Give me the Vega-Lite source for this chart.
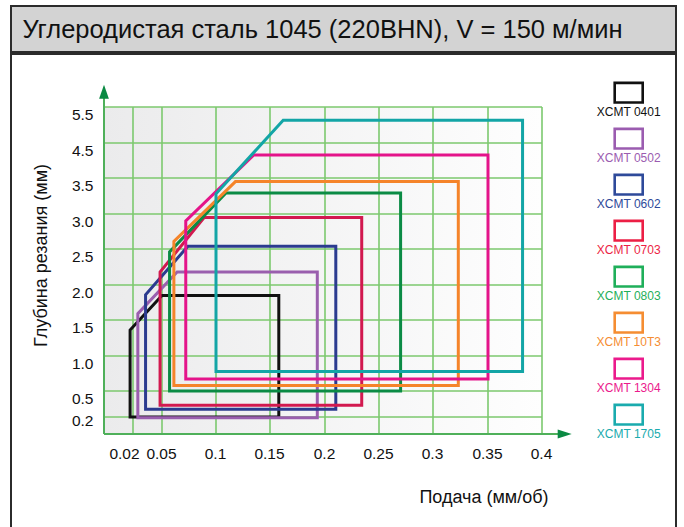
{
  "$schema": "https://vega.github.io/schema/vega-lite/v6.json",
  "padding": {"left": 10, "top": 5, "right": 0, "bottom": 0},
  "background": "white",
  "spacing": 0,
  "config": {
    "font": "Liberation Sans",
    "view": {"stroke": null},
    "axis": {"labelColor": "#111111", "titleColor": "#111111", "titleFontWeight": "normal"}
  },
  "datasets": {
    "inserts": [
      {"name": "XCMT 0401", "i": 0, "x": 0.018, "y": 0.2},
      {"name": "XCMT 0401", "i": 1, "x": 0.018, "y": 1.36},
      {"name": "XCMT 0401", "i": 2, "x": 0.05, "y": 1.85},
      {"name": "XCMT 0401", "i": 3, "x": 0.158, "y": 1.85},
      {"name": "XCMT 0401", "i": 4, "x": 0.158, "y": 0.2},
      {"name": "XCMT 0401", "i": 5, "x": 0.018, "y": 0.2},
      {"name": "XCMT 0502", "i": 0, "x": 0.025, "y": 0.19},
      {"name": "XCMT 0502", "i": 1, "x": 0.025, "y": 1.59},
      {"name": "XCMT 0502", "i": 2, "x": 0.064, "y": 2.18},
      {"name": "XCMT 0502", "i": 3, "x": 0.193, "y": 2.18},
      {"name": "XCMT 0502", "i": 4, "x": 0.193, "y": 0.19},
      {"name": "XCMT 0502", "i": 5, "x": 0.025, "y": 0.19},
      {"name": "XCMT 0602", "i": 0, "x": 0.033, "y": 0.29},
      {"name": "XCMT 0602", "i": 1, "x": 0.033, "y": 1.86},
      {"name": "XCMT 0602", "i": 2, "x": 0.074, "y": 2.54},
      {"name": "XCMT 0602", "i": 3, "x": 0.21, "y": 2.54},
      {"name": "XCMT 0602", "i": 4, "x": 0.21, "y": 0.29},
      {"name": "XCMT 0602", "i": 5, "x": 0.033, "y": 0.29},
      {"name": "XCMT 0703", "i": 0, "x": 0.048, "y": 0.335},
      {"name": "XCMT 0703", "i": 1, "x": 0.048, "y": 2.18},
      {"name": "XCMT 0703", "i": 2, "x": 0.089, "y": 2.95},
      {"name": "XCMT 0703", "i": 3, "x": 0.234, "y": 2.95},
      {"name": "XCMT 0703", "i": 4, "x": 0.234, "y": 0.335},
      {"name": "XCMT 0703", "i": 5, "x": 0.048, "y": 0.335},
      {"name": "XCMT 0803", "i": 0, "x": 0.057, "y": 0.5},
      {"name": "XCMT 0803", "i": 1, "x": 0.057, "y": 2.46},
      {"name": "XCMT 0803", "i": 2, "x": 0.109, "y": 3.29},
      {"name": "XCMT 0803", "i": 3, "x": 0.27, "y": 3.29},
      {"name": "XCMT 0803", "i": 4, "x": 0.27, "y": 0.5},
      {"name": "XCMT 0803", "i": 5, "x": 0.057, "y": 0.5},
      {"name": "XCMT 10T3", "i": 0, "x": 0.061, "y": 0.58},
      {"name": "XCMT 10T3", "i": 1, "x": 0.061, "y": 2.61},
      {"name": "XCMT 10T3", "i": 2, "x": 0.118, "y": 3.45},
      {"name": "XCMT 10T3", "i": 3, "x": 0.323, "y": 3.45},
      {"name": "XCMT 10T3", "i": 4, "x": 0.323, "y": 0.58},
      {"name": "XCMT 10T3", "i": 5, "x": 0.061, "y": 0.58},
      {"name": "XCMT 1304", "i": 0, "x": 0.072, "y": 0.67},
      {"name": "XCMT 1304", "i": 1, "x": 0.072, "y": 2.9},
      {"name": "XCMT 1304", "i": 2, "x": 0.135, "y": 4.16},
      {"name": "XCMT 1304", "i": 3, "x": 0.35, "y": 4.16},
      {"name": "XCMT 1304", "i": 4, "x": 0.35, "y": 0.67},
      {"name": "XCMT 1304", "i": 5, "x": 0.072, "y": 0.67},
      {"name": "XCMT 1705", "i": 0, "x": 0.1, "y": 0.78},
      {"name": "XCMT 1705", "i": 1, "x": 0.1, "y": 3.28},
      {"name": "XCMT 1705", "i": 2, "x": 0.162, "y": 5.13},
      {"name": "XCMT 1705", "i": 3, "x": 0.382, "y": 5.13},
      {"name": "XCMT 1705", "i": 4, "x": 0.382, "y": 0.78},
      {"name": "XCMT 1705", "i": 5, "x": 0.1, "y": 0.78}
    ],
    "feeds": [
      {"f": 0.02}, {"f": 0.05}, {"f": 0.1}, {"f": 0.15}, {"f": 0.2},
      {"f": 0.25}, {"f": 0.3}, {"f": 0.35}, {"f": 0.4}
    ],
    "depths": [
      {"d": 0.2}, {"d": 0.5}, {"d": 1.0}, {"d": 1.5}, {"d": 2.0},
      {"d": 2.5}, {"d": 3.0}, {"d": 3.5}, {"d": 4.5}, {"d": 5.5}
    ],
    "grades": [
      {"name": "XCMT 0401"}, {"name": "XCMT 0502"}, {"name": "XCMT 0602"}, {"name": "XCMT 0703"},
      {"name": "XCMT 0803"}, {"name": "XCMT 10T3"}, {"name": "XCMT 1304"}, {"name": "XCMT 1705"}
    ]
  },
  "vconcat": [
    {
      "width": 665,
      "height": 46,
      "view": {"fill": "#d3d3d3", "stroke": "#2b2b2b", "strokeWidth": 2},
      "data": {"values": [{"t": "Углеродистая сталь 1045 (220BHN), V = 150 м/мин"}]},
      "mark": {
        "type": "text", "align": "center", "baseline": "middle",
        "dx": -21, "dy": 1,
        "font": "Liberation Sans", "fontSize": 25.5, "color": "#111111"
      },
      "encoding": {"text": {"field": "t"}}
    },
    {
      "width": 665,
      "height": 490,
      "view": {"fill": "white", "stroke": "#2b2b2b", "strokeWidth": 2},
      "resolve": {"scale": {"x": "independent", "y": "independent", "color": "independent"}},
      "layer": [
        {
          "layer": [
            {
              "data": {"values": [{}]},
              "mark": {
                "type": "rect",
                "fill": {
                  "gradient": "linear", "x1": 0, "y1": 0, "x2": 1, "y2": 0,
                  "stops": [{"offset": 0, "color": "#ebebec"}, {"offset": 1, "color": "#fefefe"}]
                }
              },
              "encoding": {
                "x": {
                  "datum": 0, "type": "quantitative",
                  "scale": {
                    "domain": [0, 0.02, 0.05, 0.1, 0.15, 0.2, 0.25, 0.3, 0.35, 0.4],
                    "range": [93, 122, 151, 205, 259, 314, 368, 422, 477, 531],
                    "nice": false, "zero": false, "clamp": false
                  },
                  "axis": {
                    "orient": "bottom", "offset": -110,
                    "values": [0.02, 0.05, 0.1, 0.15, 0.2, 0.25, 0.3, 0.35, 0.4],
                    "labelExpr": "format(datum.value, '~g')",
                    "domain": false, "ticks": false, "grid": false,
                    "labelFontSize": 15.5, "labelPadding": 12,
                    "labelFlush": false, "labelOverlap": false,
                    "labelOffset": {"condition": {"test": "datum.value == 0.02", "value": -9}, "value": -1},
                    "title": "Подача (мм/об)",
                    "titleFontSize": 18, "titleX": 537, "titleY": 63,
                    "titleAlign": "right", "titleBaseline": "middle"
                  }
                },
                "x2": {"datum": 0.4},
                "y": {
                  "datum": 0, "type": "quantitative",
                  "scale": {
                    "domain": [0, 0.2, 0.5, 1.0, 1.5, 2.0, 2.5, 3.0, 3.5, 4.5, 5.5],
                    "range": [380, 363, 337, 302, 266, 231, 195, 160, 124, 89, 53],
                    "nice": false, "zero": false, "clamp": false
                  },
                  "axis": {
                    "orient": "left", "offset": -93,
                    "values": [0.2, 0.5, 1.0, 1.5, 2.0, 2.5, 3.0, 3.5, 4.5, 5.5],
                    "format": ".1f",
                    "domain": false, "ticks": false, "grid": false,
                    "labelFontSize": 15.5, "labelPadding": 11,
                    "labelFlush": false, "labelOverlap": false,
                    "labelOffset": {"condition": {"test": "datum.value <= 0.2", "value": 3}, "value": 7},
                    "title": "Глубина резания (мм)",
                    "titleFontSize": 18, "titleX": -63, "titleY": 201,
                    "titleAngle": -90, "titleAlign": "center", "titleBaseline": "middle"
                  }
                },
                "y2": {"datum": 5.5}
              }
            },
            {
              "data": {"name": "feeds"},
              "mark": {"type": "rule", "color": "#7cc96e", "strokeWidth": 1.6},
              "encoding": {
                "x": {"field": "f", "type": "quantitative"},
                "y": {"datum": 0, "type": "quantitative"},
                "y2": {"datum": 5.5}
              }
            },
            {
              "data": {"name": "depths"},
              "mark": {"type": "rule", "color": "#7cc96e", "strokeWidth": 1.6},
              "encoding": {
                "y": {"field": "d", "type": "quantitative"},
                "x": {"datum": 0, "type": "quantitative"},
                "x2": {"datum": 0.4}
              }
            },
            {
              "data": {"values": [{"axis": "depth"}]},
              "mark": {"type": "rule", "color": "#4fb05a", "strokeWidth": 2},
              "encoding": {
                "x": {"datum": 0, "type": "quantitative"},
                "y": {"datum": 0, "type": "quantitative"},
                "y2": {"datum": 5.95}
              }
            },
            {
              "data": {"values": [{"axis": "feed"}]},
              "mark": {"type": "rule", "color": "#4fb05a", "strokeWidth": 2},
              "encoding": {
                "y": {"datum": 0, "type": "quantitative"},
                "x": {"datum": 0, "type": "quantitative"},
                "x2": {"datum": 0.42}
              }
            },
            {
              "data": {"values": [{"arrow": "depth"}]},
              "mark": {"type": "point", "shape": "M0,0L0.7,2L-0.7,2Z", "size": 196, "filled": true, "color": "#0b8a43", "opacity": 1},
              "encoding": {
                "x": {"datum": 0, "type": "quantitative"},
                "y": {"datum": 6.12, "type": "quantitative"}
              }
            },
            {
              "data": {"values": [{"arrow": "feed"}]},
              "mark": {"type": "point", "shape": "M0,0L-2,-0.65L-2,0.65Z", "size": 196, "filled": true, "color": "#0b8a43", "opacity": 1},
              "encoding": {
                "x": {"datum": 0.4275, "type": "quantitative"},
                "y": {"datum": 0, "type": "quantitative"}
              }
            },
            {
              "data": {"name": "inserts"},
              "mark": {"type": "line", "strokeWidth": 3, "strokeCap": "square", "strokeJoin": "miter"},
              "encoding": {
                "x": {"field": "x", "type": "quantitative"},
                "y": {"field": "y", "type": "quantitative"},
                "order": {"field": "i", "type": "ordinal"},
                "color": {
                  "field": "name", "type": "nominal", "legend": null,
                  "scale": {
                    "domain": ["XCMT 0401", "XCMT 0502", "XCMT 0602", "XCMT 0703", "XCMT 0803", "XCMT 10T3", "XCMT 1304", "XCMT 1705"],
                    "range": ["#111111", "#9a5fae", "#2b3b8f", "#d2194f", "#0b8b45", "#f5842a", "#e4148a", "#13a5a6"]
                  }
                }
              }
            }
          ]
        },
        {
          "data": {"name": "grades"},
          "encoding": {
            "x": {
              "datum": "legend", "type": "nominal",
              "scale": {"type": "point", "range": [570, 665.4], "padding": 0.5},
              "axis": null
            },
            "y": {
              "field": "name", "type": "nominal", "sort": null,
              "scale": {"type": "point", "range": [38.7, 360.7], "padding": 0},
              "axis": null
            },
            "color": {
              "field": "name", "type": "nominal", "legend": null,
              "scale": {
                "domain": ["XCMT 0401", "XCMT 0502", "XCMT 0602", "XCMT 0703", "XCMT 0803", "XCMT 10T3", "XCMT 1304", "XCMT 1705"],
                "range": ["#111111", "#9b5cb0", "#2e4a9a", "#ec1f45", "#1faf5a", "#f58d32", "#eb1a8c", "#1aabae"]
              }
            }
          },
          "layer": [
            {
              "mark": {"type": "point", "shape": "M-1,-0.7H1V0.7H-1Z", "size": 784, "filled": false, "strokeWidth": 2.6, "opacity": 1}
            },
            {
              "mark": {"type": "text", "fontSize": 12, "baseline": "middle", "align": "center", "dy": 19},
              "encoding": {"text": {"field": "name"}}
            }
          ]
        }
      ]
    }
  ]
}
